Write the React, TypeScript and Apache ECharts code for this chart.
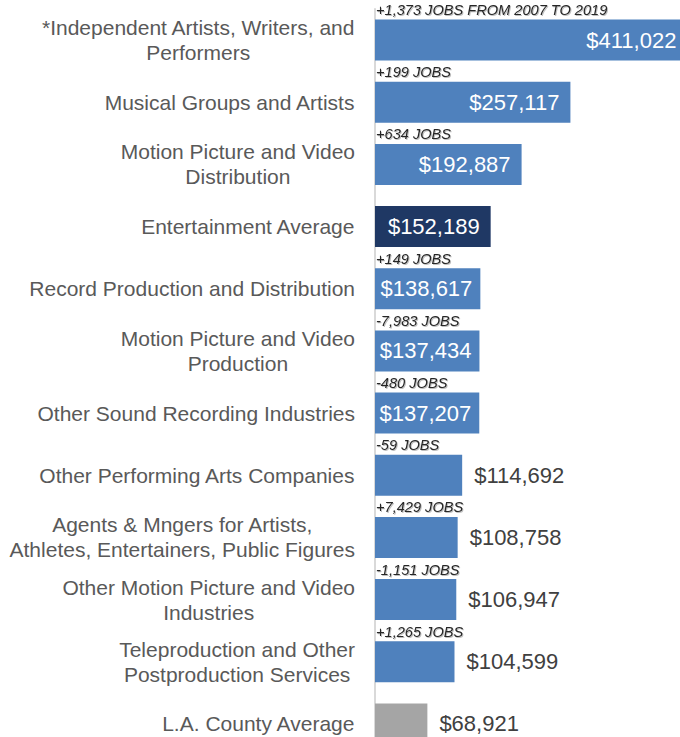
import React, { useEffect, useRef } from "react";
import * as echarts from "echarts";

const categories = [
  "*Independent Artists, Writers, and\nPerformers",
  "Musical Groups and Artists",
  "Motion Picture and Video\nDistribution",
  "Entertainment Average",
  "Record Production and Distribution",
  "Motion Picture and Video\nProduction",
  "Other Sound Recording Industries",
  "Other Performing Arts Companies",
  "Agents & Mngers for Artists,\nAthletes, Entertainers, Public Figures",
  "Other Motion Picture and Video\nIndustries",
  "Teleproduction and Other\nPostproduction Services",
  "L.A. County Average",
];

const wages = [411022, 257117, 192887, 152189, 138617, 137434, 137207, 114692, 108758, 106947, 104599, 68921];

const jobChanges = [
  "+1,373 JOBS FROM 2007 TO 2019",
  "+199 JOBS",
  "+634 JOBS",
  "",
  "+149 JOBS",
  "-7,983 JOBS",
  "-480 JOBS",
  "-59 JOBS",
  "+7,429 JOBS",
  "-1,151 JOBS",
  "+1,265 JOBS",
  "",
];

const BLUE = "#4f81bd";
const NAVY = "#1f3864";
const GRAY = "#a5a5a5";
const FONT = "'Liberation Sans', Arial, sans-serif";

const fmt = (v: number) => "$" + v.toLocaleString("en-US");

export default function App() {
  const ref = useRef<HTMLDivElement>(null);
  useEffect(() => {
    if (!ref.current) return;
    const chart = echarts.init(ref.current, null, { renderer: "svg" });
    const colorFor = (name: string) =>
      name === "Entertainment Average" ? NAVY : name === "L.A. County Average" ? GRAY : BLUE;

    const mainData = wages.map((v, i) => {
      const inside = v >= 130000;
      return {
        value: v,
        itemStyle: { color: colorFor(categories[i]) },
        label: inside
          ? { position: "insideRight", distance: v < 140000 ? 8 : 11, color: "#ffffff" }
          : { position: "right", distance: 12, color: "#404040" },
      };
    });

    const annoData = wages.map((v, i) => ({
      value: v,
      label: { show: jobChanges[i] !== "" },
    }));

    chart.setOption({
      animation: false,
      grid: { left: 375, top: 9, width: 0.76 * 420, height: 746, containLabel: false },
      xAxis: {
        type: "value",
        min: 0,
        max: 420000,
        show: false,
      },
      yAxis: {
        type: "category",
        data: categories,
        inverse: true,
        axisTick: { show: false },
        axisLine: { show: true, lineStyle: { color: "#d9d9d9", width: 2 } },
        splitLine: { show: false },
        axisLabel: {
          margin: 20,
          align: "right",
          formatter: (val: string) =>
            val
              .split("\n")
              .map((l) => `{c|${l}}`)
              .join("\n"),
          rich: {
            c: {
              align: "center",
              fontSize: 21,
              lineHeight: 25,
              color: "#595959",
              fontFamily: FONT,
            },
          },
        },
      },
      series: [
        {
          type: "bar",
          data: mainData,
          barWidth: 41,
          clip: false,
          label: {
            show: true,
            fontSize: 22,
            fontFamily: FONT,
            formatter: (p: any) => fmt(p.value),
          },
          z: 2,
        },
        {
          type: "bar",
          data: annoData,
          barWidth: 41,
          barGap: "-100%",
          clip: false,
          silent: true,
          itemStyle: { color: "rgba(0,0,0,0)" },
          label: {
            position: [1, -2],
            align: "left",
            verticalAlign: "bottom",
            fontSize: 14.6,
            fontStyle: "italic",
            fontFamily: FONT,
            color: "#262626",
            textShadowColor: "rgba(0,0,0,0.25)",
            textShadowOffsetX: 1,
            textShadowOffsetY: 1,
            textShadowBlur: 1,
            formatter: (p: any) => jobChanges[p.dataIndex],
          },
          z: 3,
        },
      ],
    });
    return () => chart.dispose();
  }, []);

  return (
    <div
      style={{
        position: "fixed",
        left: 0,
        top: 0,
        width: 680,
        height: 737,
        overflow: "hidden",
        background: "#ffffff",
      }}
    >
      <div ref={ref} style={{ width: 720, height: 760 }} />
    </div>
  );
}
